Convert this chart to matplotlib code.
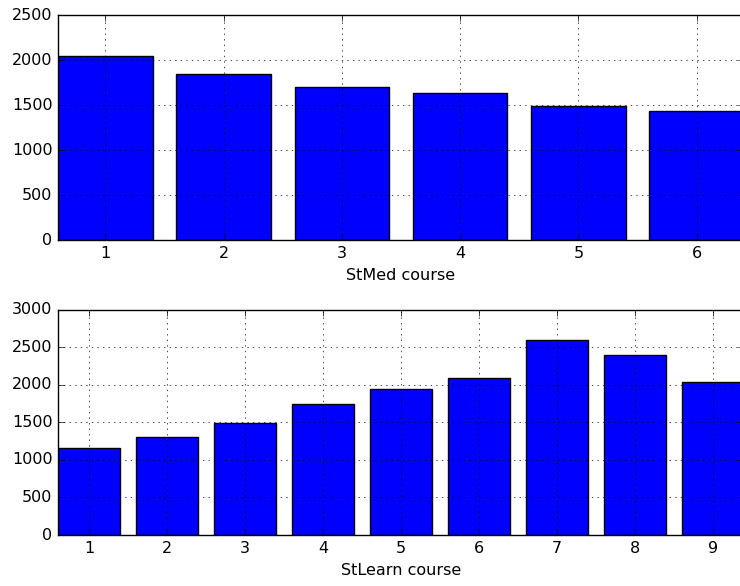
import matplotlib
matplotlib.use("Agg")
import matplotlib.pyplot as plt

# StMed course values
stmed_courses = [1, 2, 3, 4, 5, 6]
stmed_values = [2048, 1844, 1704, 1637, 1489, 1433]

# StLearn course values
stlearn_courses = [1, 2, 3, 4, 5, 6, 7, 8, 9]
stlearn_values = [1154, 1309, 1496, 1749, 1940, 2091, 2597, 2397, 2042]

plt.style.use('classic')
fig = plt.figure(figsize=(7.4, 5.86), dpi=100, facecolor='white')

ax1 = fig.add_axes([0.0784, 0.5904, 0.927, 0.3840])
ax1.bar(stmed_courses, stmed_values, width=0.8, align='center', color='b', edgecolor='k')
ax1.set_xlim(0.6, 6.4)
ax1.set_ylim(0, 2500)
ax1.set_xticks(stmed_courses)
ax1.set_yticks([0, 500, 1000, 1500, 2000, 2500])
ax1.grid(True)
ax1.set_xlabel("StMed course")

ax2 = fig.add_axes([0.0784, 0.0870, 0.927, 0.3845])
ax2.bar(stlearn_courses, stlearn_values, width=0.8, align='center', color='b', edgecolor='k')
ax2.set_xlim(0.6, 9.4)
ax2.set_ylim(0, 3000)
ax2.set_xticks(stlearn_courses)
ax2.set_yticks([0, 500, 1000, 1500, 2000, 2500, 3000])
ax2.grid(True)
ax2.set_xlabel("StLearn course")

for ax in (ax1, ax2):
    ax.tick_params(labelsize=11.5)
    ax.xaxis.label.set_size(11.5)

fig.savefig("out.png", dpi=100, facecolor='white')
